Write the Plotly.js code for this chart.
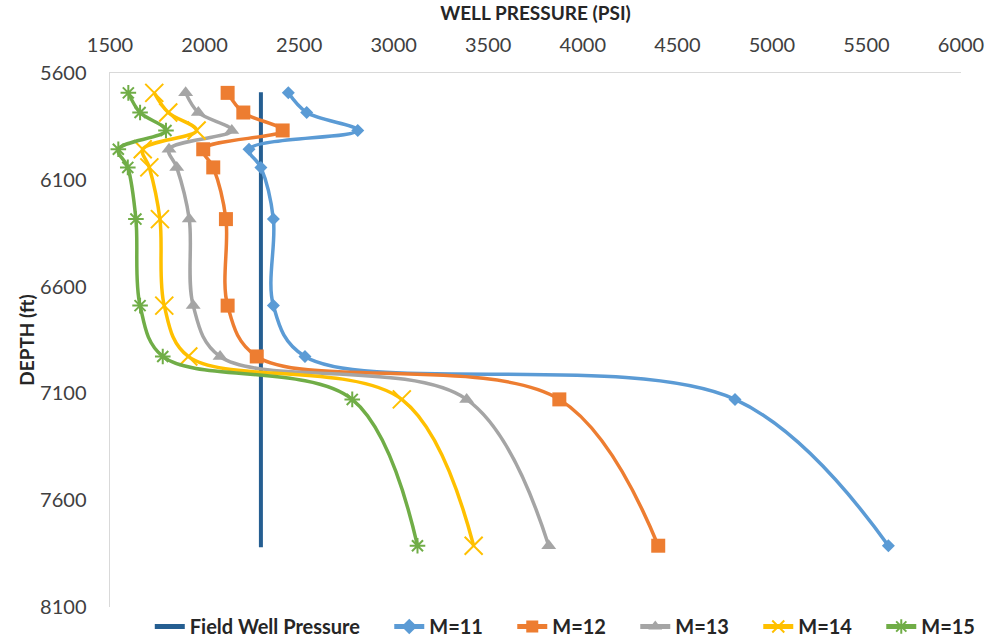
<!DOCTYPE html>
<html>
<head>
<meta charset="utf-8">
<script src="https://cdn.plot.ly/plotly-3.0.1.min.js"></script>
<style>
html,body{margin:0;padding:0;background:#fff;}
#chart{width:994px;height:638px;}
</style>
</head>
<body>
<div id="chart"></div>
<script>
// Depth (ft) of each reading
const depth = [5693, 5785, 5869, 5957, 6042, 6284, 6689, 6927, 7128, 7813];
// Well pressure (psi) for each M value
const m11 = [2443, 2540, 2810, 2235, 2298, 2364, 2364, 2531, 4805, 5616];
const m12 = [2122, 2205, 2413, 1993, 2046, 2113, 2122, 2276, 3876, 4399];
const m13 = [1900, 1967, 2144, 1812, 1853, 1919, 1940, 2082, 3386, 3820];
const m14 = [1734, 1808, 1958, 1673, 1708, 1764, 1787, 1914, 3043, 3423];
const m15 = [1597, 1659, 1796, 1544, 1594, 1637, 1659, 1779, 2781, 3126];
// Field well pressure line
const fieldDepth = [5690, 7820];
const fieldPressure = [2298, 2298];

const names = ["Field Well Pressure", "M=11", "M=12", "M=13", "M=14", "M=15"];
const xTickVals = [1500, 2000, 2500, 3000, 3500, 4000, 4500, 5000, 5500, 6000];
const yTickVals = [5600, 6100, 6600, 7100, 7600, 8100];

const FONT = "Lato, 'Liberation Sans', Arial, sans-serif";
const PAD = "\u00a0\u00a0\u00a0\u00a0\u00a0"; // legend spacing

function series(x, name, color, symbol, size, open, pad) {
  return {
    type: "scatter", mode: "lines+markers", x: x, y: depth, name: name + pad,
    line: {color: color, width: 3.5, shape: "spline", smoothing: 1},
    marker: open
      ? {symbol: symbol, size: size, color: color, line: {color: color, width: 2}}
      : {symbol: symbol, size: size, color: color, line: {width: 0}}
  };
}

const traces = [
  {type: "scatter", mode: "lines", x: fieldPressure, y: fieldDepth, name: names[0] + PAD,
   line: {color: "#255e91", width: 4}},
  series(m11, names[1], "#5b9bd5", "diamond", 10, false, PAD),
  series(m12, names[2], "#ed7d31", "square", 14, false, PAD),
  series(m13, names[3], "#a5a5a5", "triangle-up", 13, false, PAD),
  series(m14, names[4], "#ffc000", "x-thin-open", 18, true, PAD),
  series(m15, names[5], "#70ad47", "asterisk-open", 13, true, "")
];

const layout = {
  width: 994, height: 638,
  margin: {l: 110, r: 33, t: 73, b: 30},
  paper_bgcolor: "#fff", plot_bgcolor: "#fff",
  font: {family: FONT, color: "#404040", size: 20},
  showlegend: true,
  legend: {orientation: "h", x: 0.535, xanchor: "center",
           yref: "container", y: 0.018, yanchor: "middle",
           font: {family: FONT, size: 20, color: "#262626", weight: "bold"},
           itemsizing: "constant", bgcolor: "rgba(0,0,0,0)", tracegroupgap: 0},
  xaxis: {
    side: "top", range: [1500, 6000], tickvals: xTickVals,
    showgrid: false, zeroline: false, showline: true, linecolor: "#d9d9d9", linewidth: 1.5,
    ticks: "", ticklabelstandoff: 12,
    tickfont: {family: FONT, size: 20, color: "#404040"},
    title: {text: "WELL PRESSURE (PSI)", standoff: 6,
            font: {family: FONT, size: 19, color: "#262626", weight: "bold"}}
  },
  yaxis: {
    range: [8100, 5600], tickvals: yTickVals,
    showgrid: false, zeroline: false, showline: true, linecolor: "#d9d9d9", linewidth: 1.5,
    ticks: "", ticklabelstandoff: 18,
    tickfont: {family: FONT, size: 20, color: "#404040"},
    title: {text: "DEPTH (ft)", standoff: 0,
            font: {family: FONT, size: 19, color: "#262626", weight: "bold"}}
  }
};

Plotly.newPlot("chart", traces, layout, {displayModeBar: false, staticPlot: true});
</script>
</body>
</html>
